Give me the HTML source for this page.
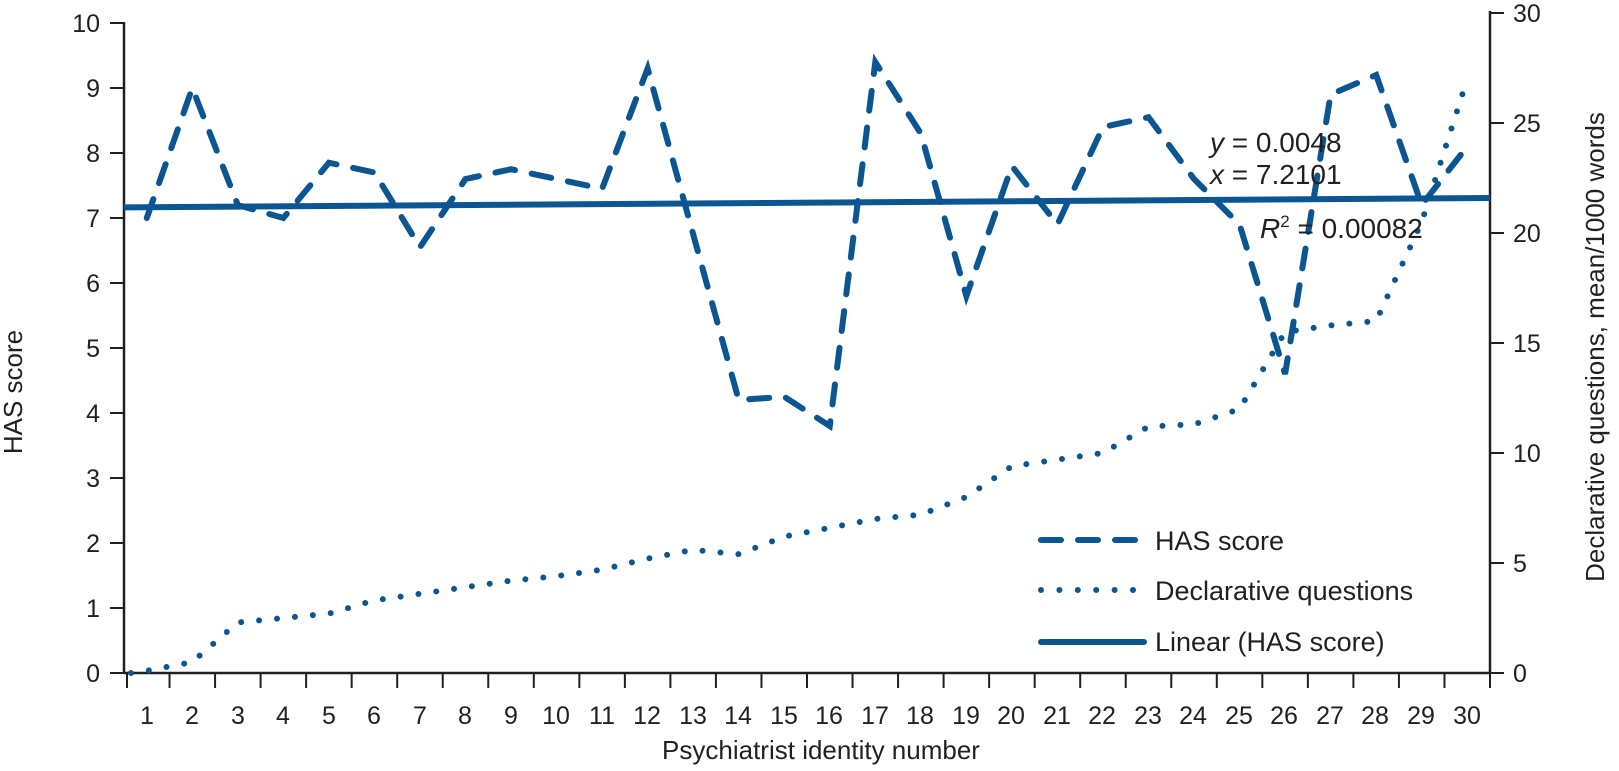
<!DOCTYPE html>
<html><head><meta charset="utf-8"><style>
body{margin:0;background:#fff;}
svg{display:block;font-family:"Liberation Sans","DejaVu Sans",sans-serif;}
text{fill:#231f20;}
</style></head><body>
<svg width="1619" height="771" viewBox="0 0 1619 771">
<g stroke="#231f20" stroke-width="2.5" fill="none">
<line x1="124" y1="22" x2="124" y2="673"/>
<line x1="1490" y1="11" x2="1490" y2="673"/>
<line x1="124" y1="673" x2="1490" y2="673"/>
</g>
<g id="ticks" stroke="#231f20" stroke-width="2"></g>
<text x="22" y="392" transform="rotate(-90 22 392)" text-anchor="middle" font-size="26">HAS score</text>
<text x="1604" y="347" transform="rotate(-90 1604 347)" text-anchor="middle" font-size="26">Declarative questions, mean/1000 words</text>
<text x="821" y="759" text-anchor="middle" font-size="26">Psychiatrist identity number</text>
<line id="trend" stroke="#0b5592" stroke-width="6"/>
<polyline id="has" fill="none" stroke="#0b5592" stroke-width="6" stroke-linecap="round" stroke-dasharray="20 17"/>
<polyline id="dec" fill="none" stroke="#0b5592" stroke-width="6" stroke-linecap="round" stroke-dasharray="0 18"/>
<text x="1210" y="152" font-size="28"><tspan font-style="italic">y</tspan> = 0.0048</text>
<text x="1210" y="184" font-size="28"><tspan font-style="italic">x</tspan> = 7.2101</text>
<text x="1260" y="238" font-size="28"><tspan font-style="italic">R</tspan><tspan font-size="17" dy="-11">2</tspan><tspan dy="11"> = 0.00082</tspan></text>
<line x1="1041" y1="540" x2="1142" y2="540" stroke="#0b5592" stroke-width="6" stroke-linecap="round" stroke-dasharray="20 17"/>
<line x1="1041" y1="590" x2="1142" y2="590" stroke="#0b5592" stroke-width="6" stroke-linecap="round" stroke-dasharray="0 18.4"/>
<line x1="1041" y1="642" x2="1144" y2="642" stroke="#0b5592" stroke-width="6" stroke-linecap="round"/>
<text x="1155" y="550" font-size="27">HAS score</text>
<text x="1155" y="600" font-size="27">Declarative questions</text>
<text x="1155" y="651" font-size="27">Linear (HAS score)</text>
<g font-size="25">
<text x="100" y="682" text-anchor="end">0</text><text x="100" y="617" text-anchor="end">1</text><text x="100" y="552" text-anchor="end">2</text><text x="100" y="487" text-anchor="end">3</text><text x="100" y="422" text-anchor="end">4</text><text x="100" y="357" text-anchor="end">5</text><text x="100" y="292" text-anchor="end">6</text><text x="100" y="227" text-anchor="end">7</text><text x="100" y="162" text-anchor="end">8</text><text x="100" y="97" text-anchor="end">9</text><text x="100" y="32" text-anchor="end">10</text>
<text x="1513" y="682">0</text><text x="1513" y="572">5</text><text x="1513" y="462">10</text><text x="1513" y="352">15</text><text x="1513" y="242">20</text><text x="1513" y="132">25</text><text x="1513" y="22">30</text>
</g>
<g font-size="25" text-anchor="middle">
<text x="147" y="724">1</text><text x="192" y="724">2</text><text x="238" y="724">3</text><text x="283" y="724">4</text><text x="329" y="724">5</text><text x="374" y="724">6</text><text x="420" y="724">7</text><text x="465" y="724">8</text><text x="511" y="724">9</text><text x="556" y="724">10</text><text x="602" y="724">11</text><text x="647" y="724">12</text><text x="693" y="724">13</text><text x="738" y="724">14</text><text x="784" y="724">15</text><text x="829" y="724">16</text><text x="875" y="724">17</text><text x="920" y="724">18</text><text x="966" y="724">19</text><text x="1011" y="724">20</text><text x="1057" y="724">21</text><text x="1102" y="724">22</text><text x="1148" y="724">23</text><text x="1193" y="724">24</text><text x="1239" y="724">25</text><text x="1284" y="724">26</text><text x="1330" y="724">27</text><text x="1375" y="724">28</text><text x="1421" y="724">29</text><text x="1467" y="724">30</text>
</g>
</svg>
<script>
var has=[7.0,9.0,7.2,7.0,7.85,7.7,6.55,7.6,7.75,7.6,7.45,9.3,6.75,4.2,4.25,3.8,9.4,8.3,5.8,7.8,6.9,8.4,8.55,7.6,6.9,4.6,8.9,9.2,7.2,8.1];
var dec=[0.1,0.5,2.3,2.5,2.7,3.3,3.6,3.9,4.2,4.4,4.7,5.2,5.6,5.4,6.2,6.6,7.0,7.2,8.0,9.4,9.7,10.0,11.2,11.3,12.0,15.5,15.8,16.0,20.5,27.0];
var W=1366/30;
function X(i){return 124+(i+0.5)*W;}
function YL(v){return 673-v*65;}
function YR(v){return 673-v*22;}
var p1=[],p2=["131,673"];
for(var i=0;i<30;i++){p1.push(X(i)+","+YL(has[i]));p2.push(X(i)+","+YR(dec[i]));}
document.getElementById("has").setAttribute("points",p1.join(" "));
document.getElementById("dec").setAttribute("points",p2.join(" "));
var tr=document.getElementById("trend");
tr.setAttribute("x1",124);tr.setAttribute("x2",1490);
tr.setAttribute("y1",YL(7.2101)+3);tr.setAttribute("y2",YL(7.2101+0.0048*30)+3);
var t="";
for(var k=0;k<=10;k++){var y=673-k*65;t+='<line x1="110" y1="'+y+'" x2="124" y2="'+y+'"/>';}
for(var k=0;k<=6;k++){var y=673-k*110;t+='<line x1="1490" y1="'+y+'" x2="1504" y2="'+y+'"/>';}
for(var k=0;k<=30;k++){var x=124+k*W+(k==0?3:0);t+='<line x1="'+x+'" y1="673" x2="'+x+'" y2="688"/>';}
document.getElementById("ticks").innerHTML=t;
</script>
</body></html>
